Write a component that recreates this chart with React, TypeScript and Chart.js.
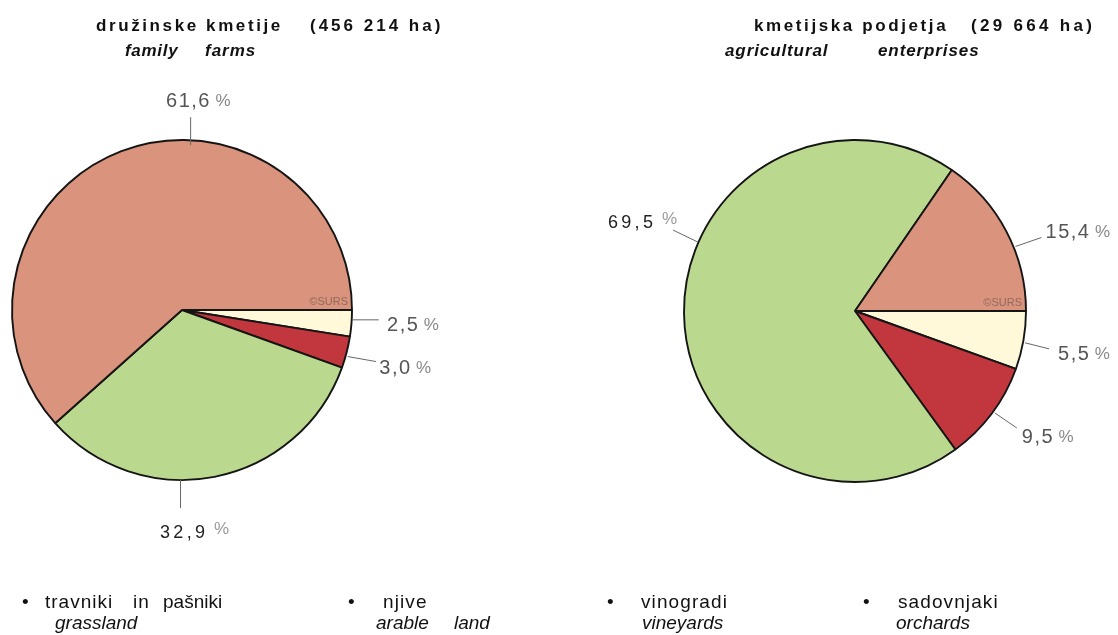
import React, { useEffect, useRef } from "react";
import { Chart, registerables } from "chart.js";

Chart.register(...registerables);

// ---------- data ----------
const categoriesSl = ["travniki in pašniki", "njive", "vinogradi", "sadovnjaki"];
const categoriesEn = ["grassland", "arable land", "vineyards", "orchards"];
const familyFarmsShare = [61.6, 32.9, 3.0, 2.5];
const enterprisesShare = [15.4, 69.5, 9.5, 5.5];
const sliceColors = ["#DA937C", "#BAD98F", "#C2373D", "#FFF9D9"];

const FONT = "'Liberation Sans', Arial, Helvetica, sans-serif";

type LabelSpec = {
  cat: number;
  angle: number; // degrees, clockwise from 3 o'clock
  dr: number; // radial offset of leader start from the rim
  line: [number, number];
  text: [number, number];
  dark?: boolean;
};

const fmt = (v: number) => v.toFixed(1).replace(".", ",");

function drawSpaced(ctx: CanvasRenderingContext2D, s: string, x: number, y: number, ls: number) {
  let cx = x;
  for (const ch of s) {
    ctx.fillText(ch, cx, y);
    cx += ctx.measureText(ch).width + ls;
  }
  return cx - ls - x;
}

const pctLabelPlugin = {
  id: "pctLabels",
  afterDatasetsDraw(chart: any, _args: any, opts: any) {
    const meta = chart.getDatasetMeta(0);
    const arc = meta.data[0];
    if (!arc) return;
    const { x: cx, y: cy, outerRadius: r } = arc.getProps(["x", "y", "outerRadius"], true);
    const ctx: CanvasRenderingContext2D = chart.ctx;
    ctx.save();
    ctx.textAlign = "left";
    ctx.textBaseline = "alphabetic";
    // copyright mark
    ctx.font = `11px ${FONT}`;
    ctx.fillStyle = "rgba(85,70,70,0.55)";
    const cw = ctx.measureText("©SURS").width;
    ctx.fillText("©SURS", cx + r - 4 - cw, cy - 5);

    const values: number[] = opts.values;
    for (const spec of opts.items as LabelSpec[]) {
      const a = (spec.angle * Math.PI) / 180;
      const sx = cx + (r + spec.dr) * Math.cos(a);
      const sy = cy + (r + spec.dr) * Math.sin(a);
      const ex = sx + spec.line[0];
      const ey = sy + spec.line[1];
      ctx.strokeStyle = "#666";
      ctx.lineWidth = 1;
      ctx.beginPath();
      ctx.moveTo(sx, sy);
      ctx.lineTo(ex, ey);
      ctx.stroke();
      const tx = ex + spec.text[0];
      const ty = ey + spec.text[1];
      const num = fmt(values[spec.cat]);
      if (spec.dark) {
        ctx.font = `18px ${FONT}`;
        ctx.fillStyle = "#222";
        const w = drawSpaced(ctx, num, tx, ty, 3.3);
        ctx.font = `17px ${FONT}`;
        ctx.fillStyle = "#9a9a9a";
        ctx.fillText("%", tx + w + 9, ty - 4);
      } else {
        ctx.font = `20px ${FONT}`;
        ctx.fillStyle = "#555";
        const w = drawSpaced(ctx, num, tx, ty, 1.5);
        ctx.font = `17px ${FONT}`;
        ctx.fillStyle = "#888";
        ctx.fillText("%", tx + w + 6, ty - 1);
      }
    }
    ctx.restore();
  },
};

type PieProps = {
  values: number[];
  radius: number;
  padding: { left: number; right: number; top: number; bottom: number };
  items: LabelSpec[];
};

function PieCanvas({ values, radius, padding, items }: PieProps) {
  const ref = useRef<HTMLCanvasElement | null>(null);
  useEffect(() => {
    if (!ref.current) return;
    const chart = new Chart(ref.current, {
      type: "pie",
      data: {
        labels: [...categoriesSl].reverse(),
        datasets: [
          {
            data: [...values].reverse(),
            backgroundColor: [...sliceColors].reverse(),
            borderColor: "#151515",
            borderWidth: 1.9,
            radius: radius,
          } as any,
        ],
      },
      options: {
        responsive: false,
        maintainAspectRatio: false,
        animation: false,
        events: [],
        rotation: 90,
        layout: { padding },
        plugins: {
          legend: { display: false },
          tooltip: { enabled: false },
          title: { display: false },
          pctLabels: { values, items },
        } as any,
      },
      plugins: [pctLabelPlugin],
    });
    return () => chart.destroy();
  }, []);
  return (
    <canvas
      ref={ref}
      width={1118}
      height={635}
      style={{ position: "absolute", left: 0, top: 0, width: 1118, height: 635 }}
    />
  );
}

type TxtProps = {
  x: number;
  base: number;
  size: number;
  bold?: boolean;
  italic?: boolean;
  ls?: number;
  color?: string;
  children: React.ReactNode;
};

function Txt({ x, base, size, bold, italic, ls = 0, color = "#111", children }: TxtProps) {
  return (
    <span
      style={{
        position: "absolute",
        left: x,
        top: base - 0.8465 * size,
        fontFamily: FONT,
        fontSize: size,
        lineHeight: `${size}px`,
        fontWeight: bold ? 700 : 400,
        fontStyle: italic ? "italic" : "normal",
        letterSpacing: ls,
        color,
        whiteSpace: "pre",
      }}
    >
      {children}
    </span>
  );
}

const familyLabels: LabelSpec[] = [
  { cat: 0, angle: -87, dr: -5, line: [0, -28], text: [-24.6, -10] },
  { cat: 1, angle: 90.5, dr: 0, line: [0, 28], text: [-20.5, 30], dark: true },
  { cat: 3, angle: 3.3, dr: 1, line: [26, 0], text: [8.3, 11] },
  { cat: 2, angle: 15.7, dr: 2, line: [28.4, 5], text: [3.3, 12.3] },
];

const enterpriseLabels: LabelSpec[] = [
  { cat: 0, angle: -21.9, dr: 2, line: [26, -9], text: [4, 1] },
  { cat: 3, angle: 10.6, dr: 2, line: [24, 6], text: [9, 11] },
  { cat: 2, angle: 36.1, dr: 2, line: [22, 15], text: [5, 15] },
  { cat: 1, angle: 203.7, dr: 0.5, line: [-25, -12], text: [-65, -2], dark: true },
];

export default function App() {
  useEffect(() => {
    document.body.style.margin = "0";
  }, []);
  const L1 = 608;
  const L2 = 629;
  return (
    <div
      style={{
        position: "absolute",
        left: 0,
        top: 0,
        width: 1118,
        height: 635,
        overflow: "hidden",
        background: "#fff",
      }}
    >
      <PieCanvas
        values={familyFarmsShare}
        radius={170}
        padding={{ left: 0, right: 754, top: 0, bottom: 15 }}
        items={familyLabels}
      />
      <PieCanvas
        values={enterprisesShare}
        radius={171}
        padding={{ left: 592, right: 0, top: 0, bottom: 13 }}
        items={enterpriseLabels}
      />

      {/* titles */}
      <Txt x={96} base={31.5} size={17} bold ls={2.6}>družinske kmetije</Txt>
      <Txt x={310} base={31.5} size={17} bold ls={3}>(456 214 ha)</Txt>
      <Txt x={125} base={56} size={17} bold italic ls={0.7}>family</Txt>
      <Txt x={205} base={56} size={17} bold italic ls={1}>farms</Txt>

      <Txt x={754} base={31.5} size={17} bold ls={2.6}>kmetijska podjetja</Txt>
      <Txt x={971} base={31.5} size={17} bold ls={3.3}>(29 664 ha)</Txt>
      <Txt x={725} base={56} size={17} bold italic ls={0.9}>agricultural</Txt>
      <Txt x={878} base={56} size={17} bold italic ls={0.9}>enterprises</Txt>

      {/* legend */}
      <Txt x={22} base={L1} size={19}>•</Txt>
      <Txt x={45} base={L1} size={19} ls={1}>travniki</Txt>
      <Txt x={133} base={L1} size={19} ls={1}>in</Txt>
      <Txt x={163} base={L1} size={19} ls={0}>pašniki</Txt>
      <Txt x={55} base={L2} size={19} italic>{categoriesEn[0]}</Txt>

      <Txt x={348} base={L1} size={19}>•</Txt>
      <Txt x={383} base={L1} size={19} ls={1.1}>{categoriesSl[1]}</Txt>
      <Txt x={376} base={L2} size={19} italic>arable</Txt>
      <Txt x={454} base={L2} size={19} italic>land</Txt>

      <Txt x={607} base={L1} size={19}>•</Txt>
      <Txt x={641} base={L1} size={19} ls={1.1}>{categoriesSl[2]}</Txt>
      <Txt x={642} base={L2} size={19} italic>{categoriesEn[2]}</Txt>

      <Txt x={863} base={L1} size={19}>•</Txt>
      <Txt x={898} base={L1} size={19} ls={1.1}>{categoriesSl[3]}</Txt>
      <Txt x={896} base={L2} size={19} italic>{categoriesEn[3]}</Txt>
    </div>
  );
}
